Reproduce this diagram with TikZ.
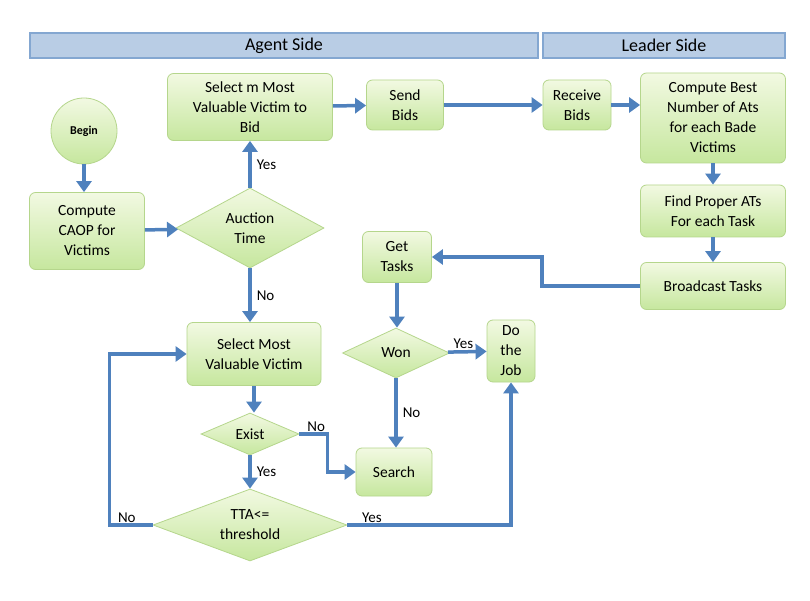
\documentclass[tikz,border=0pt]{standalone}
\usepackage{fontspec}
\setmainfont{Carlito}
\usetikzlibrary{shapes.geometric,arrows.meta}
\definecolor{flowblue}{HTML}{4F81BD}
\definecolor{boxtop}{HTML}{F2F9E2}
\definecolor{boxbot}{HTML}{C6E79E}
\definecolor{boxline}{HTML}{B5D68C}
\definecolor{headfill}{HTML}{B9CDE5}
\tikzset{
  box/.style={shape=rectangle, rounded corners=6pt, draw=boxline, line width=0.8pt, top color=boxtop, bottom color=boxbot, align=center, inner sep=0, font=\fontsize{15.5}{20}\selectfont},
  dia/.style={shape=diamond, draw=boxline, line width=0.8pt, top color=boxtop, bottom color=boxbot, align=center, inner sep=0, aspect=2, font=\fontsize{15.5}{20}\selectfont},
  head/.style={shape=rectangle, draw=flowblue!70, line width=1.5pt, fill=headfill, inner sep=0, minimum height=25pt, font=\fontsize{18}{20}\selectfont},
  flow/.style={-{Triangle[length=11pt,width=15pt]}, draw=flowblue, line width=3.5pt},
  lbl/.style={font=\fontsize{15}{17}\selectfont, inner sep=1pt}
}
\begin{document}
\begin{tikzpicture}[x=1pt,y=-1pt]
        \useasboundingbox[fill=white] (0,0) rectangle (810,601);
        % Headers:
        \node[head, minimum width=508pt] (agent) at (284,45.5){Agent Side};
        \node[head, minimum width=242pt] (leader) at (664,45.5){Leader Side};
        % Agent nodes:
        \node[shape=circle, draw=boxline, line width=0.8pt, top color=boxtop, bottom color=boxbot, minimum size=66pt, inner sep=0, font=\bfseries\fontsize{12}{14}\selectfont] (begin) at (84,131){Begin};
        \node[box, minimum width=115pt, minimum height=77pt] (caop) at (87,231){Compute\\CAOP for\\Victims};
        \node[dia, minimum width=148pt, minimum height=80pt] (auction) at (250,228){Auction\\Time};
        \node[box, minimum width=165pt, minimum height=67pt] (selm) at (250,107){Select m Most\\Valuable Victim to\\Bid};
        \node[box, minimum width=77pt, minimum height=50pt] (send) at (405,105){Send\\Bids};
        \node[box, minimum width=134pt, minimum height=63pt] (selmost) at (254,354){Select Most\\Valuable Victim};
        \node[dia, minimum width=98pt, minimum height=42pt] (exist) at (250,434){Exist};
        \node[dia, minimum width=194pt, minimum height=72pt] (tta) at (250,525){TTA<=\\threshold};
        \node[box, minimum width=69pt, minimum height=51pt] (gettasks) at (397,257){Get\\Tasks};
        \node[dia, minimum width=107pt, minimum height=50pt] (won) at (396,353){Won};
        \node[box, minimum width=48pt, minimum height=62pt] (dojob) at (511,351){Do\\the\\Job};
        \node[box, minimum width=76pt, minimum height=48pt] (search) at (394,472){Search};
        % Leader nodes:
        \node[box, minimum width=68pt, minimum height=50pt] (receive) at (577,105){Receive\\Bids};
        \node[box, minimum width=145pt, minimum height=90pt] (best) at (713,118){Compute Best\\Number of Ats\\for each Bade\\Victims};
        \node[box, minimum width=145pt, minimum height=52pt] (proper) at (713,211){Find Proper ATs\\For each Task};
        \node[box, minimum width=145pt, minimum height=47pt] (broadcast) at (713,286){Broadcast Tasks};
        % Wires:
        \draw[flow] (begin) -- (begin |- caop.north);
        \draw[flow] (caop) -- (auction);
        \draw[flow] (auction) -- node[lbl, right=4pt]{Yes} (selm);
        \draw[flow] (selm) -- (send);
        \draw[flow] (send) -- (receive);
        \draw[flow] (receive) -- (receive -| best.west);
        \draw[flow] (best) -- (proper);
        \draw[flow] (proper) -- (broadcast);
        \draw[flow] (broadcast.west) -- ++(-98,0) |- (gettasks.east);
        \draw[flow] (gettasks) -- (gettasks |- won.north);
        \draw[flow] (won) -- node[lbl, above, pos=0.4]{Yes} (dojob);
        \draw[flow] (won) -- node[lbl, right=4pt]{No} (won |- search.north);
        \draw[flow] (auction) -- node[lbl, right=4pt]{No} (auction |- selmost.north);
        \draw[flow] (selmost) -- (selmost |- exist.north);
        \draw[flow] (exist.east) -- node[lbl, above, pos=0.6]{No} ++(28,0) |- (search.west);
        \draw[flow] (exist) -- node[lbl, right=4pt]{Yes} (tta);
        \draw[flow] (tta.west) -- node[lbl, above, pos=0.6]{No} ++(-43,0) |- (selmost.west);
        \draw[flow] (tta.east) -- node[lbl, above, pos=0.15]{Yes} (dojob.south |- tta.east) -- (dojob.south);
      \end{tikzpicture}
\end{document}
